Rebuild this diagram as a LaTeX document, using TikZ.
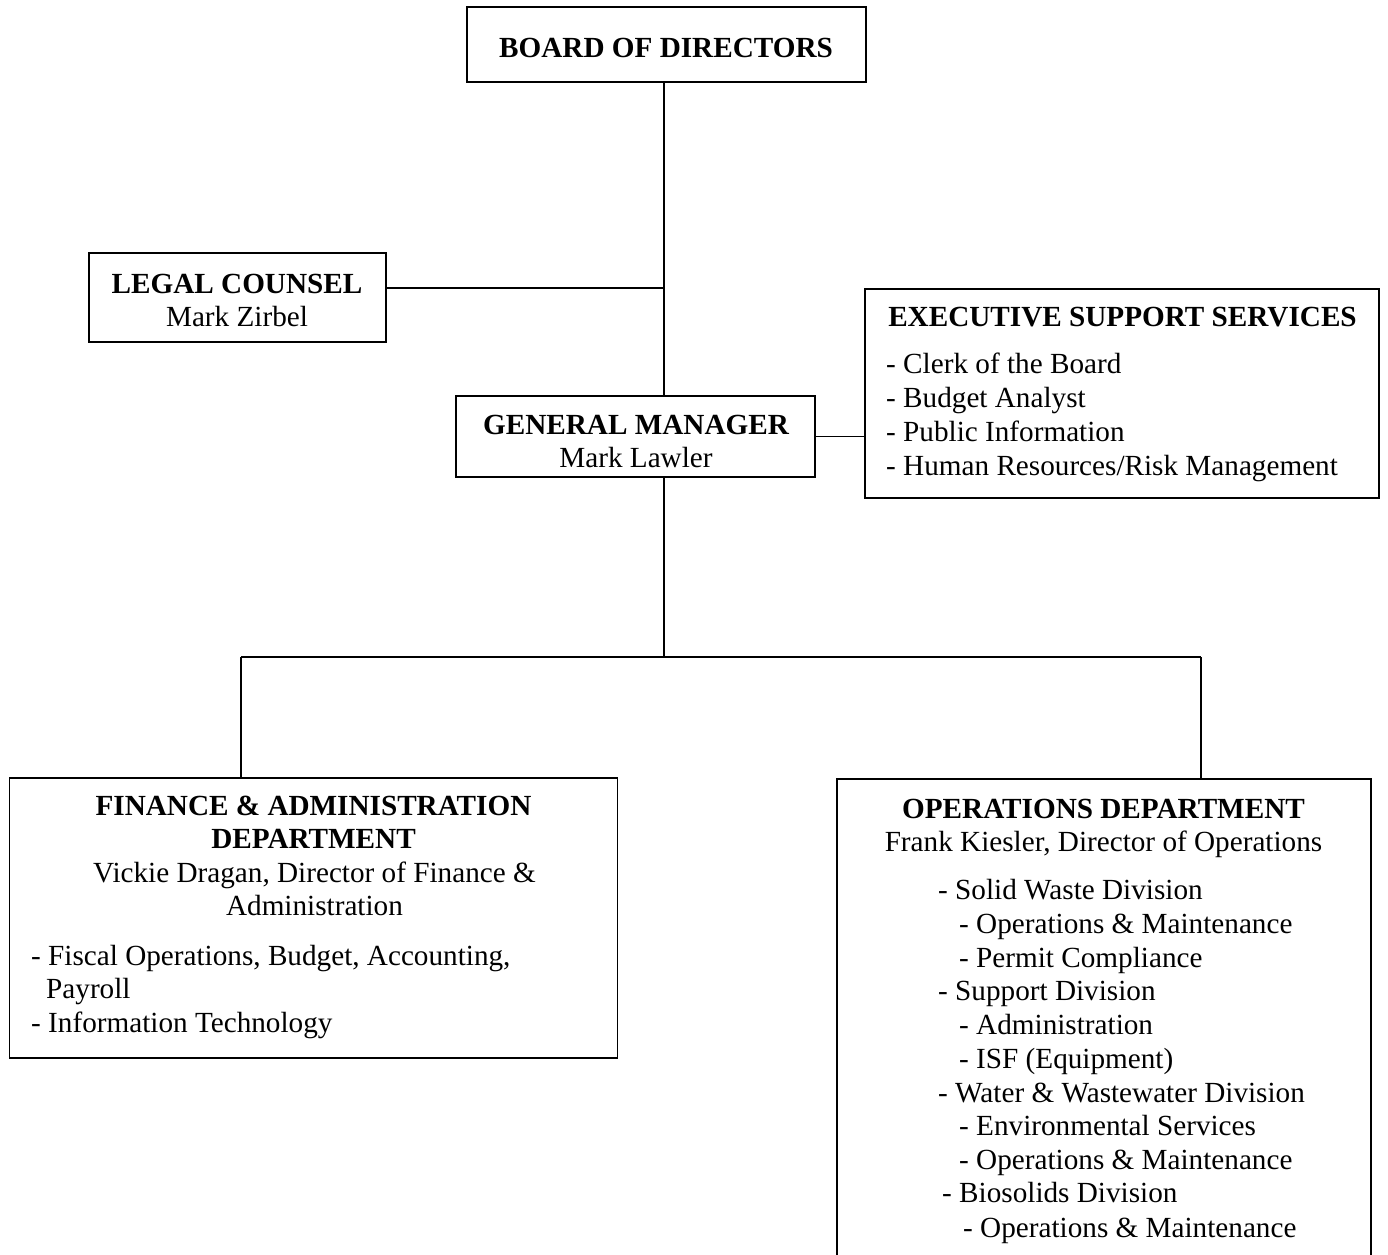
\documentclass[tikz,border=0pt]{standalone}
\usepackage{fontspec}
\setmainfont{Liberation Serif}
\begin{document}
\begin{tikzpicture}[x=1pt,y=-1pt,
  box/.style={draw,line width=1.8pt,rectangle,inner sep=0pt},
  conn/.style={line width=1.8pt},
  txt/.style={inner sep=0pt,font=\fontsize{29.2}{34}\selectfont},
  hd/.style={txt,font=\fontsize{29.2}{34}\selectfont\bfseries}]
\useasboundingbox (0,0) rectangle (1388,1254);
\begin{scope}
\clip (0,0) rectangle (1388,1254);
% boxes
\node[box,minimum width=399,minimum height=75] (bod) at (666.5,44.5) {};
\node[box,minimum width=297,minimum height=89] (lc) at (237.5,297.5) {};
\node[box,minimum width=359,minimum height=81] (gm) at (635.5,436.5) {};
\node[box,minimum width=514,minimum height=209] (ess) at (1122,393.5) {};
\node[box,minimum width=608,minimum height=280] (fin) at (313.5,918) {};
\node[box,minimum width=534,minimum height=541] (ops) at (1104,1049.5) {};
\end{scope}
% junction coordinates
\coordinate (sp) at (664,0);
\coordinate (lj) at (664,288);
\coordinate (hub) at (664,657);
\coordinate (fl) at (241,657);
\coordinate (fr) at (1201,657);
% connectors
\draw[conn] (bod.south -| sp) -- (gm.north -| sp);
\draw[conn] (lj -| lc.east) -- (lj);
\draw[conn] (gm.east) -- (gm.east -| ess.west);
\draw[conn] (gm.south -| sp) -- (hub);
\draw[conn] (fl) -- (fr);
\draw[conn] (fl) -- (fl |- fin.north);
\draw[conn] (fr) -- (fr |- ops.north);
% texts
\node[hd,anchor=base] (t1) at (666,57) {BOARD OF DIRECTORS};
\node[hd,anchor=base] (t2) at (237,293) {LEGAL COUNSEL};
\node[txt,anchor=base] (t3) at (237,326) {Mark Zirbel};
\node[hd,anchor=base] (t4) at (636,434) {GENERAL MANAGER};
\node[txt,anchor=base] (t5) at (636,467) {Mark Lawler};
\node[hd,anchor=base] (t6) at (1122.5,326) {EXECUTIVE SUPPORT SERVICES};
\node[txt,anchor=base west] (t7) at (886,373) {- Clerk of the Board};
\node[txt,anchor=base west] (t8) at (886,407) {- Budget Analyst};
\node[txt,anchor=base west] (t9) at (886,441) {- Public Information};
\node[txt,anchor=base west] (t10) at (886,475) {- Human Resources/Risk Management};
\node[hd,anchor=base] (f1) at (313.5,815) {FINANCE \& ADMINISTRATION};
\node[hd,anchor=base] (f2) at (313.5,848) {DEPARTMENT};
\node[txt,anchor=base] (f3) at (314.5,882) {Vickie Dragan, Director of Finance \&};
\node[txt,anchor=base] (f4) at (314.5,915) {Administration};
\node[txt,anchor=base west] (f5) at (31,965) {- Fiscal Operations, Budget, Accounting,};
\node[txt,anchor=base west] (f6) at (46,998) {Payroll};
\node[txt,anchor=base west] (f7) at (31,1032) {- Information Technology};
\node[hd,anchor=base] (o1) at (1103.5,818) {OPERATIONS DEPARTMENT};
\node[txt,anchor=base] (o2) at (1103.5,851) {Frank Kiesler, Director of Operations};
\node[txt,anchor=base west] (o3) at (938,899) {- Solid Waste Division};
\node[txt,anchor=base west] (o4) at (959,933) {- Operations \& Maintenance};
\node[txt,anchor=base west] (o5) at (959,967) {- Permit Compliance};
\node[txt,anchor=base west] (o6) at (938,1000) {- Support Division};
\node[txt,anchor=base west] (o7) at (959,1034) {- Administration};
\node[txt,anchor=base west] (o8) at (959,1068) {- ISF (Equipment)};
\node[txt,anchor=base west] (o9) at (938,1102) {- Water \& Wastewater Division};
\node[txt,anchor=base west] (o10) at (959,1135) {- Environmental Services};
\node[txt,anchor=base west] (o11) at (959,1169) {- Operations \& Maintenance};
\node[txt,anchor=base west] (o12) at (942,1202) {- Biosolids Division};
\node[txt,anchor=base west] (o13) at (963,1237) {- Operations \& Maintenance};
\end{tikzpicture}
\end{document}
